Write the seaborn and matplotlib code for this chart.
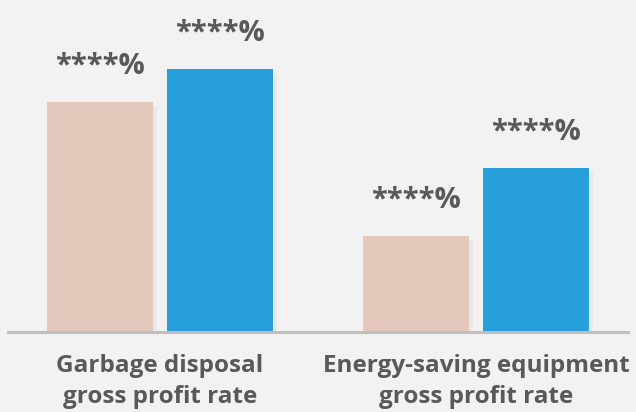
import pandas as pd
import seaborn as sns
import matplotlib.pyplot as plt
import matplotlib.patheffects as pe

categories = ['Garbage disposal\ngross profit rate', 'Energy-saving equipment\ngross profit rate']
series = ['before', 'after']
values_before = [23.0, 9.6]
values_after = [26.3, 16.4]
bar_labels = ['****%', '****%', '****%', '****%']

df = pd.DataFrame({
    'category': categories * 2,
    'series': [series[0]] * 2 + [series[1]] * 2,
    'value': values_before + values_after,
})

sns.set_theme(style='white')
plt.rcParams['font.family'] = ['Open Sans', 'DejaVu Sans']

fig = plt.figure(figsize=(6.36, 4.12), dpi=100, facecolor='#F2F2F2')
ax = fig.add_axes([8 / 636, 80 / 412, 620 / 636, 332 / 412])
ax.set_facecolor('#F2F2F2')

sns.barplot(data=df, x='category', y='value', hue='series',
            palette=['#E4C8BB', '#279FDB'], width=0.76, gap=0.117,
            legend=False, ax=ax, saturation=1, linewidth=0, edgecolor='none')

# soft shadow under the bars
for bar in ax.patches:
    bar.set_path_effects([pe.SimplePatchShadow(offset=(3, -3), shadow_rgbFace='#000000', alpha=0.04),
                          pe.Normal()])

# value labels
bars = sorted(ax.patches, key=lambda b: b.get_x())
for bar, text in zip(bars, bar_labels):
    ax.annotate(text, (bar.get_x() + bar.get_width() / 2, bar.get_height()),
                xytext=(0, 15), textcoords='offset points', ha='center', va='bottom',
                fontsize=21, fontweight='bold', color='#595959')

ax.set_xlim(-0.481, 1.481)
ax.set_ylim(0, 33.2)
ax.set_xlabel('')
ax.set_ylabel('')
ax.set_yticks([])
ax.tick_params(axis='x', length=0, pad=16)
for lbl in ax.get_xticklabels():
    lbl.set_fontsize(17.5)
    lbl.set_fontweight('bold')
    lbl.set_color('#595959')
    lbl.set_linespacing(1.4)

for side in ['top', 'left', 'right']:
    ax.spines[side].set_visible(False)
ax.spines['bottom'].set_color('#BFBFBF')
ax.spines['bottom'].set_linewidth(2.2)

fig.savefig('out.png', dpi=100, facecolor='#F2F2F2')
